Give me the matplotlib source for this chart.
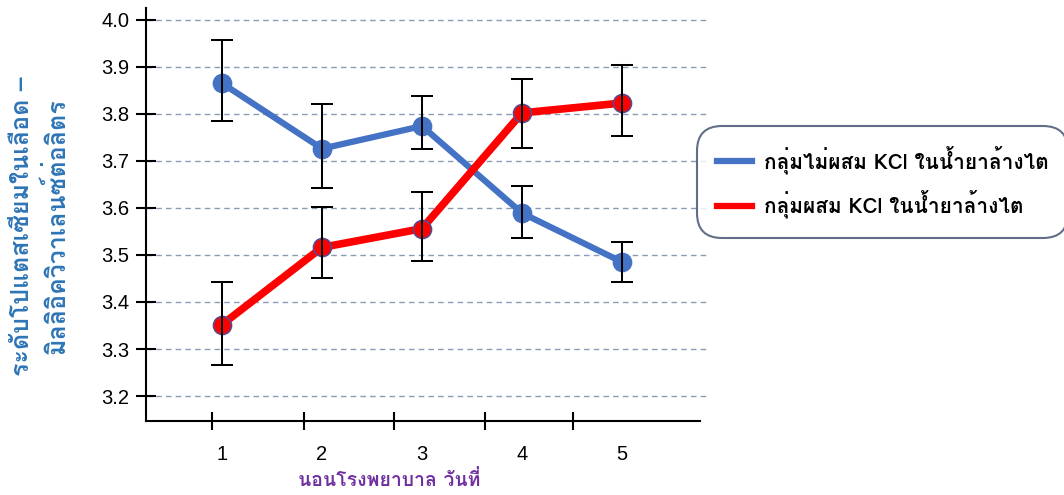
import matplotlib
matplotlib.use("Agg")
import matplotlib.pyplot as plt
from matplotlib.ticker import FixedLocator

# Days in hospital
days = [1, 2, 3, 4, 5]

# Serum potassium (mEq/L): mean with lower / upper error-bar ends
no_kcl_mean = [3.865, 3.726, 3.774, 3.589, 3.485]
no_kcl_low = [3.785, 3.643, 3.726, 3.536, 3.443]
no_kcl_high = [3.956, 3.821, 3.837, 3.647, 3.528]

kcl_mean = [3.352, 3.516, 3.556, 3.802, 3.823]
kcl_low = [3.267, 3.450, 3.487, 3.727, 3.753]
kcl_high = [3.442, 3.601, 3.633, 3.875, 3.903]

y_ticks = [3.2, 3.3, 3.4, 3.5, 3.6, 3.7, 3.8, 3.9, 4.0]
y_tick_labels = ["3.2", "3.3", "3.4", "3.5", "3.6", "3.7", "3.8", "3.9", "4.0"]
x_tick_labels = ["1", "2", "3", "4", "5"]

label_no_kcl = "กลุ่มไม่ผสม KCl ในน้ำยาล้างไต"
label_kcl = "กลุ่มผสม KCl ในน้ำยาล้างไต"
y_title = "ระดับโปแตสเซียมในเลือด –\nมิลลิอิควิวาเลนซ์ต่อลิตร"
x_title = "นอนโรงพยาบาล วันที่"

THAI = ["Loma", "Sarabun", "DejaVu Sans"]
NUM = ["Liberation Sans Narrow", "Liberation Sans", "DejaVu Sans"]

BLUE = "#4472C4"
RED = "#FF0000"

W, H = 1064, 495
fig = plt.figure(figsize=(W / 100, H / 100), dpi=100)
ax = fig.add_axes([146 / W, 1 - 421 / H, (700 - 146) / W, (421 - 8) / H])

ax.set_xlim(0.24, 5.78)
ax.set_ylim(3.147, 4.025)

# horizontal dashed gridlines
for v in y_ticks:
    ax.axhline(v, xmin=0.0, xmax=1.012, color="#8A9BB5", lw=1.0,
               ls=(0, (4, 3)), zorder=0, clip_on=False)


def draw_series(mean, low, high, color, lw, edge):
    yerr = [[m - l for m, l in zip(mean, low)], [h - m for m, h in zip(mean, high)]]
    ax.plot(days, mean, color=color, lw=lw, solid_capstyle="round",
            marker="o", markersize=13, markerfacecolor=color,
            markeredgecolor=edge, markeredgewidth=1.2, zorder=3)
    ax.errorbar(days, mean, yerr=yerr, fmt="none", ecolor="black",
                elinewidth=1.45, capsize=7.8, capthick=1.45, zorder=4)


draw_series(no_kcl_mean, no_kcl_low, no_kcl_high, BLUE, 4.5, BLUE)
draw_series(kcl_mean, kcl_low, kcl_high, RED, 5.5, "#5B4A8A")

# spines
for s in ("top", "right"):
    ax.spines[s].set_visible(False)
for s in ("left", "bottom"):
    ax.spines[s].set_linewidth(1.5)
    ax.spines[s].set_color("black")

ax.set_yticks(y_ticks)
ax.set_yticklabels(y_tick_labels, family=NUM, fontsize=14.5)
ax.tick_params(axis="y", direction="inout", length=14, width=1.5, pad=5)

# labels sit under each day, short tick marks sit slightly left of them
ax.set_xticks(days)
ax.set_xticklabels(x_tick_labels, family=NUM, fontsize=14.5)
ax.tick_params(axis="x", which="major", length=0, pad=17)
ax.xaxis.set_minor_locator(FixedLocator([0.90, 1.82, 2.72, 3.63, 4.51]))
ax.tick_params(axis="x", which="minor", direction="inout", length=13, width=1.5)

fig.text(40 / W, 1 - 226 / H, y_title, rotation=90, ha="center", va="center",
         family=THAI, fontweight="bold", fontsize=18, color="#2E75B6",
         multialignment="center", linespacing=1.45)
fig.text(389 / W, 1 - 480 / H, x_title, ha="center", va="center",
         family=THAI, fontweight="bold", fontsize=14, color="#7030A0")

h1, = ax.plot([], [], color=BLUE, lw=4.5)
h2, = ax.plot([], [], color=RED, lw=4.5)
leg = fig.legend([h1, h2], [label_no_kcl, label_kcl], loc="center left",
                 bbox_to_anchor=(697 / W, 1 - 182 / H), frameon=True,
                 fancybox=True, borderaxespad=0,
                 prop={"family": THAI, "weight": "bold", "size": 15},
                 handlelength=1.7, handletextpad=0.55, borderpad=0.95,
                 labelspacing=0.75)
frame = leg.get_frame()
frame.set_edgecolor("#3B4A6B")
frame.set_linewidth(1.5)
frame.set_boxstyle("round,pad=0,rounding_size=1.2")

fig.savefig("out.png", dpi=100)
